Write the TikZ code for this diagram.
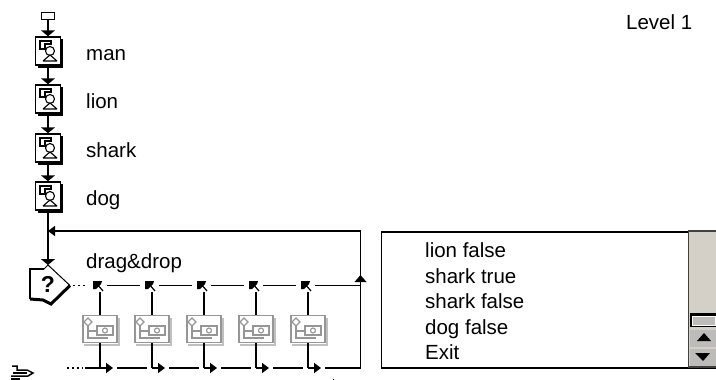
\documentclass[tikz,border=0pt]{standalone}
\usepackage{fontspec}
\setmainfont{Liberation Sans}
\usetikzlibrary{arrows.meta}
\definecolor{scrollface}{RGB}{212,208,200}
\definecolor{btnface}{RGB}{190,188,184}
\definecolor{gategray}{RGB}{150,150,150}
\tikzset{
	x=1pt, y=-1pt,
	lbl/.style={inner sep=0pt, anchor=base west, font=\fontsize{20.5}{22}\selectfont},
	flow/.style={line width=1.6pt},
	tip/.style={-{Triangle[length=6pt,width=14pt]}, line width=1.6pt},
	smalltip/.style={-{Triangle[length=7pt,width=10pt]}, line width=1.6pt},
	task/.style={draw, line width=1.5pt, fill=white, minimum width=25pt, minimum height=28pt, inner sep=0pt},
	gatebox/.style={draw=gategray, line width=1.5pt, fill=white, minimum width=34pt, minimum height=27pt, inner sep=0pt}
}
\begin{document}
\begin{tikzpicture}
	\useasboundingbox (0,0) rectangle (716,380);

	% start and tasks
	\node[draw, line width=1.2pt, minimum width=13pt, minimum height=7pt, inner sep=0pt] (start) at (48,16) {};
	\foreach \nm/\yy/\base/\txt in {man/51/60/man, lion/99/108/lion, shark/148/157/shark, dog/196/205/dog} {
		\fill (38,\yy-12) rectangle (63,\yy+16.5);
		\node[task] (\nm) at (48,\yy) {};
		\draw[line width=1.1pt] (\nm.center) ++ (-8,-10) -- ++(11,0) -- ++(0,3) -- ++(-6,0) -- ++(0,5) -- ++(-5,0) -- cycle;
		\draw[line width=1.1pt] (\nm.center) ++ (2,0) circle (4.5);
		\draw[line width=1.1pt] (\nm.center) ++ (-5,10) -- ++(7,-6) -- ++(7,6) (\nm.center) ++ (-5,10) -- ++(14,0);
		\node[lbl] (\nm lbl) at (86,\base) {\txt};
	}
	\draw[tip] (start) -- (man);
	\draw[tip] (man) -- (lion);
	\draw[tip] (lion) -- (shark);
	\draw[tip] (shark) -- (dog);

	% decision
	\coordinate (gatetip) at (70,285.5);
	\coordinate (gatein) at (48,265);
	\draw[line width=1pt, fill=white] (44,269) -- (gatein) -- (gatetip);
	\draw[line width=1.5pt] (44,269) -- (30,269) -- (30,299);
	\draw[line width=3pt] (30,299) -- (43,300) -- (51,304) -- (gatetip);
	\node[inner sep=0pt, font=\fontsize{23}{23}\bfseries\selectfont] (ask) at (48,284) {?};
	\draw[tip] (dog) -- (gatein);
	\node[lbl] (dragdrop) at (86,268) {drag\&drop};

	% loop back
	\coordinate (loopin) at (48,231);
	\coordinate (corner) at (360.5,231);
	\coordinate (upperend) at (360.5,285.5);
	\coordinate (lowerend) at (360.5,368);
	\draw[smalltip] (corner) -- (loopin);
	\draw[flow] (lowerend) -- (corner);
	\fill (360.5,275) -- (366.5,282) -- (354.5,282) -- cycle;

	% dotted starts
	\coordinate (upperdots) at (88,285.5);
	\coordinate (lowerdots) at (67,368);
	\coordinate (lowerdash) at (85,368);
	\draw[line width=1.5pt, dash pattern=on 1.5pt off 3.5pt] (gatetip) ++ (3,0) -- (upperdots);
	\draw[line width=1.5pt, dash pattern=on 1.5pt off 3.5pt] (lowerdots) -- (83,368);

	% branches
	\foreach \i/\xx in {1/100,2/152,3/204,4/256,5/308} {
		\node[gatebox] (gate\i) at (\xx,329) {};
		\draw[gategray!60, line width=2pt] (gate\i.south west) ++ (2,1.5) -- ++(35,0) -- ++(0,-27);
		\draw[gategray, line width=1.1pt] (gate\i.center) ++ (-16,-7) -- ++(4,-4) -- ++(4,4) -- ++(-4,4) -- cycle;
		\draw[gategray, line width=1.1pt] (gate\i.center) ++ (-12,-3) -- ++(0,12) -- ++(20,0) (gate\i.center) ++ (-12,2) -- ++(9,0);
		\draw[gategray, line width=1.1pt] (gate\i.center) ++ (-3,-3) rectangle ++(16,9);
		\draw[gategray, line width=1.1pt] (gate\i.center) ++ (5,1.5) circle (2.5);
		\fill (\xx-7,281) -- (\xx+2,281) -- (\xx+1,284) -- (\xx-4,289) -- (\xx-7,289) -- cycle;
		\draw[line width=1.2pt] (\xx-3,284) -- (\xx+3,291);
		\coordinate (up\i) at (\xx,292);
		\coordinate (low\i) at (\xx,368);
		\coordinate (lowtip\i) at (\xx+13,368);
		\draw[flow] (up\i) -- (gate\i);
		\draw[flow] (gate\i) -- (low\i);
		\draw[smalltip] (low\i) -- (lowtip\i);
		\coordinate (upnext\i) at (\xx+7,285.5);
		\coordinate (upstop\i) at (\xx+40,285.5);
		\coordinate (lownext\i) at (\xx+17,368);
		\coordinate (lowstop\i) at (\xx+47,368);
	}
	\draw[flow] (lowerdash) -- (low1);
	\foreach \i in {1,2,3,4} {
		\draw[flow] (upnext\i) -- (upstop\i);
		\draw[flow] (lownext\i) -- (lowstop\i);
	}
	\draw[flow] (upnext5) -- (upperend);
	\draw[flow] (lownext5) -- (lowerend);

	% hand
	\coordinate (handa) at (12,366);
	\draw[line width=1.5pt] (handa) -- ++(5,0) -- ++(0,4) -- ++(10,0) -- ++(6,3) -- ++(-5,3) -- ++(-17,0);
	\draw[line width=1.5pt] (13,373) -- ++(14,0) (11,379) -- ++(9,0);
	\fill (333,379) rectangle (334,380);

	% list box
	\node[draw, line width=1.5pt, anchor=north west, minimum width=340pt, minimum height=136pt, inner sep=0pt] (listbox) at (380.5,231) {};
	\fill[scrollface] (688.5,231.7) rectangle (716,366);
	\draw[line width=1.5pt, black!75] (688.5,231) -- (688.5,367);
	\draw[line width=1.5pt, black!75] (688,231) -- (716,231) (688,367) -- (716,367);
	\fill (690,313) rectangle (716,327);
	\node[fill=btnface, draw=white, line width=0.7pt, anchor=north west, minimum width=23pt, minimum height=9pt, inner sep=0pt] (thumb) at (692,315.5) {};
	\node[fill=btnface, anchor=north west, minimum width=27pt, minimum height=17pt, inner sep=0pt] (btnup) at (690,330) {};
	\node[fill=btnface, anchor=north west, minimum width=27pt, minimum height=17pt, inner sep=0pt] (btndown) at (690,349) {};
	\fill (704,333) -- (711,341) -- (697,341) -- cycle;
	\fill (703,361) -- (710,353) -- (695,353) -- cycle;
	\foreach \nm/\yy/\txt in {itema/257/lion false, itemb/283/shark true, itemc/308/shark false, itemd/334/dog false, iteme/359/Exit} {
		\node[lbl] (\nm) at (425,\yy) {\txt};
	}

	\node[lbl] (level) at (626,30) {Level 1};
\end{tikzpicture}
\end{document}
